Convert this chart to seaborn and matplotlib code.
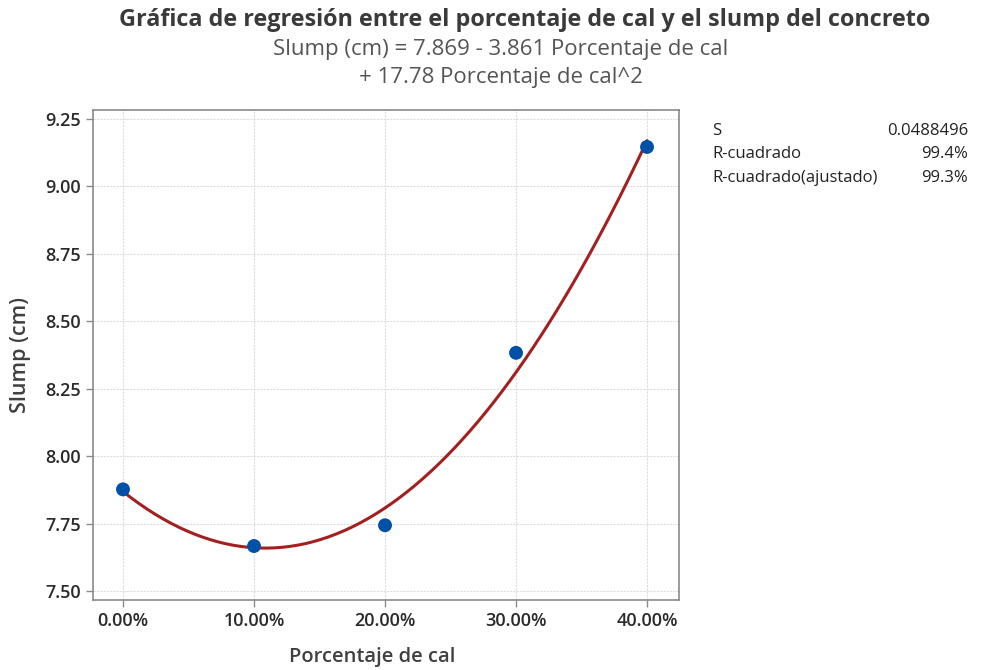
import numpy as np
import pandas as pd
import matplotlib
matplotlib.use("Agg")
import matplotlib.pyplot as plt
import seaborn as sns
from matplotlib.ticker import FuncFormatter

# Observed data
porcentaje_cal = [0.00, 0.10, 0.20, 0.30, 0.40]
slump_cm = [7.877, 7.667, 7.744, 8.383, 9.146]

# Quadratic regression coefficients
b0, b1, b2 = 7.869, -3.861, 17.78

# Model summary
stat_names = ["S", "R-cuadrado", "R-cuadrado(ajustado)"]
stat_values = ["0.0488496", "99.4%", "99.3%"]

x_ticks = [0.0, 0.1, 0.2, 0.3, 0.4]
y_ticks = [7.50, 7.75, 8.00, 8.25, 8.50, 8.75, 9.00, 9.25]

sns.set_theme(style="white")
plt.rcParams["font.family"] = ["Open Sans", "DejaVu Sans"]

fig = plt.figure(figsize=(10.05, 6.7), dpi=100)
ax = fig.add_axes([93 / 1005, 1 - 600 / 670, (679 - 93) / 1005, (600 - 110) / 670])

df = pd.DataFrame({"Porcentaje de cal": porcentaje_cal, "Slump (cm)": slump_cm})

xs = np.linspace(min(porcentaje_cal), max(porcentaje_cal), 200)
fit = pd.DataFrame({"x": xs, "y": b0 + b1 * xs + b2 * xs ** 2})
sns.lineplot(data=fit, x="x", y="y", ax=ax, color="#a32020", linewidth=2.2, zorder=3)
sns.scatterplot(data=df, x="Porcentaje de cal", y="Slump (cm)", ax=ax,
                color="#0050a8", s=100, edgecolor="none", zorder=4)

ax.set_xlim(-0.0229, 0.4244)
ax.set_ylim(7.467, 9.283)
ax.set_xticks(x_ticks)
ax.set_yticks(y_ticks)
ax.xaxis.set_major_formatter(FuncFormatter(lambda v, p: f"{v * 100:.2f}%"))
ax.yaxis.set_major_formatter(FuncFormatter(lambda v, p: f"{v:.2f}"))

ax.grid(True, color="#dcdcdc", linestyle=(0, (2, 1)), linewidth=0.8)
ax.set_axisbelow(True)
for sp in ax.spines.values():
    sp.set_color("#8a8a8a")
    sp.set_linewidth(1.2)

ax.tick_params(axis="both", which="major", length=5, width=1, color="#8a8a8a",
               labelsize=13, labelcolor="#2a2a2a", direction="out",
               bottom=True, left=True, pad=4)
for lbl in ax.get_xticklabels() + ax.get_yticklabels():
    lbl.set_fontweight("semibold")

ax.set_xlabel("Porcentaje de cal", fontsize=14.5, color="#404040", fontweight="semibold",
              labelpad=12)
ax.xaxis.set_label_coords((372 - 93) / (679 - 93), -0.095)
ax.set_ylabel("Slump (cm)", fontsize=15.5, color="#404040", fontweight="semibold",
              labelpad=10)

fig.text(525 / 1005, 1 - 20 / 670, "Gráfica de regresión entre el porcentaje de cal y el slump del concreto",
         ha="center", va="center", fontsize=16.8, fontweight="bold", color="#3a3a3a")
fig.text(501 / 1005, 1 - 50 / 670, "Slump (cm) = 7.869 - 3.861 Porcentaje de cal",
         ha="center", va="center", fontsize=16, color="#555555")
fig.text(501 / 1005, 1 - 78 / 670, "+ 17.78 Porcentaje de cal^2",
         ha="center", va="center", fontsize=16, color="#555555")

for i, (name, val) in enumerate(zip(stat_names, stat_values)):
    yy = 1 - (131 + i * 23.5) / 670
    fig.text(712 / 1005, yy, name, ha="left", va="center", fontsize=12, color="#222222")
    fig.text(968 / 1005, yy, val, ha="right", va="center", fontsize=12, color="#222222")

fig.savefig("out.png", dpi=100)
